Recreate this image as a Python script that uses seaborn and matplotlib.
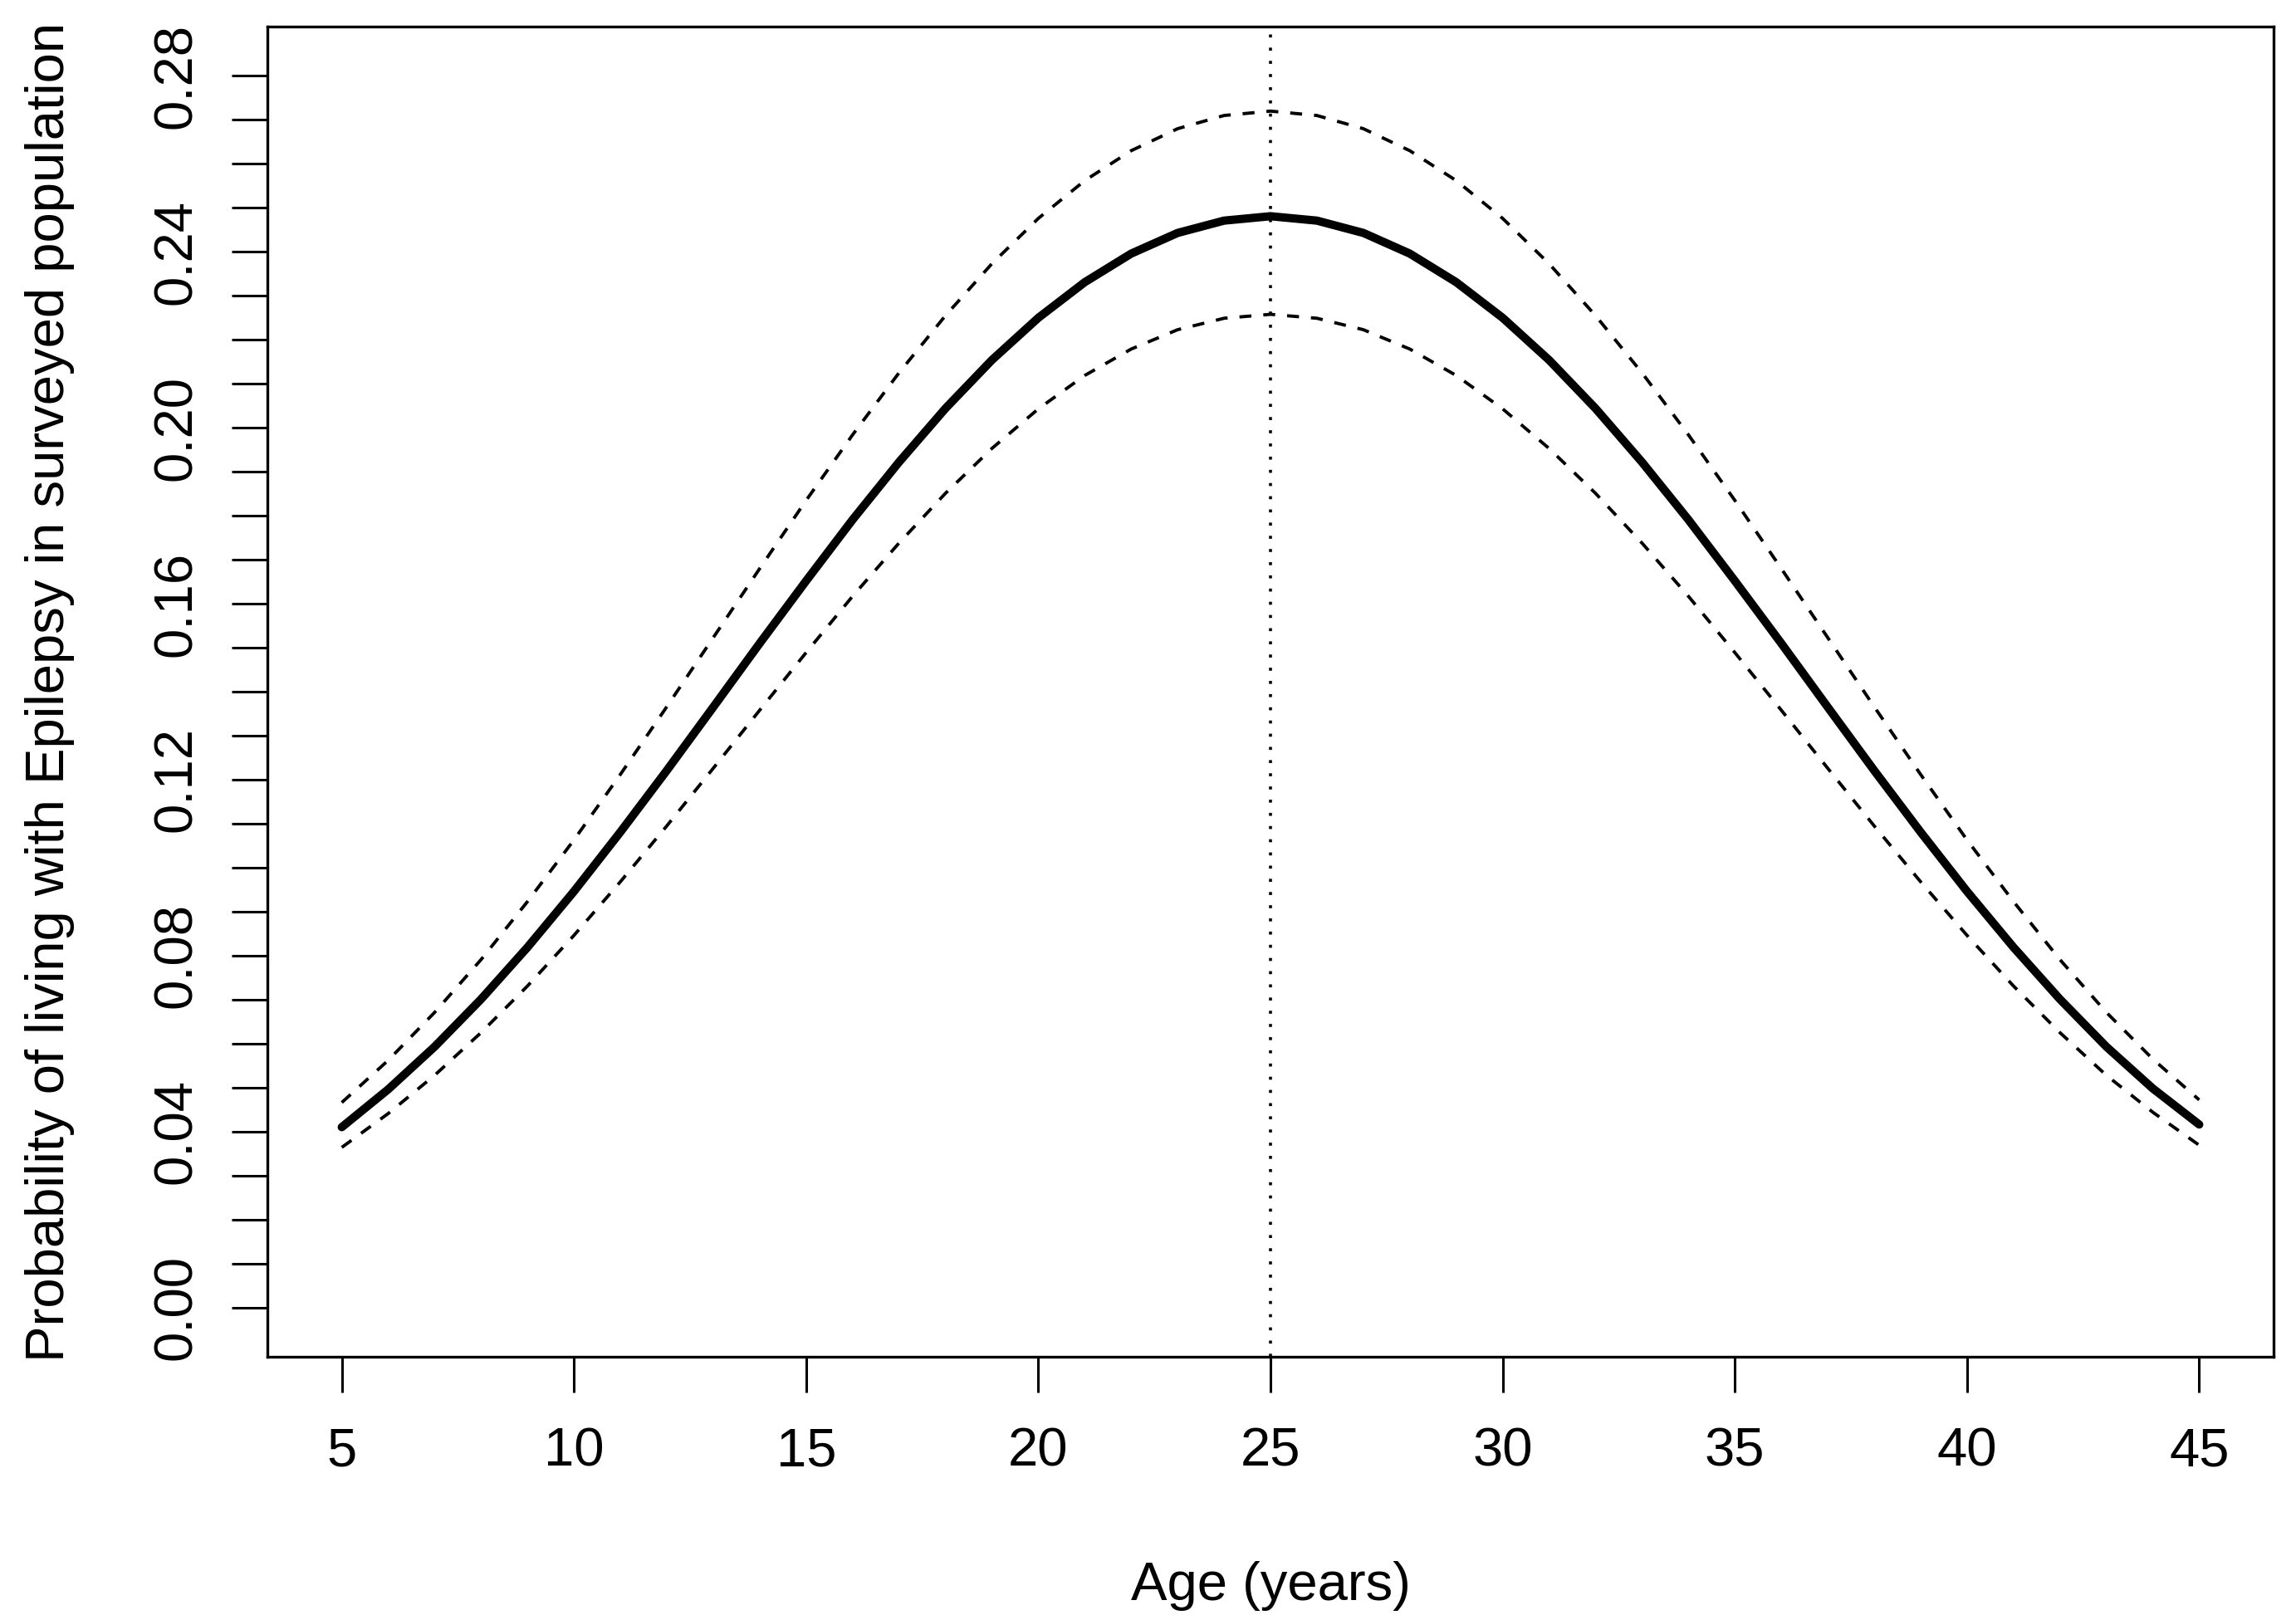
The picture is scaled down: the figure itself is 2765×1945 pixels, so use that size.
import matplotlib
matplotlib.use("Agg")
import matplotlib.pyplot as plt
import pandas as pd
import seaborn as sns
from matplotlib.ticker import FixedLocator, FormatStrFormatter

# values (fitted probability and 95% band)
ages = list(range(5, 46))
prob_fit = [
    0.0410, 0.0496, 0.0593, 0.0701, 0.0819, 0.0946, 0.1081, 0.1221, 0.1365, 0.1510,
    0.1652, 0.1791, 0.1922, 0.2044, 0.2154, 0.2250, 0.2331, 0.2396, 0.2443, 0.2471,
    0.2481,
    0.2471, 0.2443, 0.2396, 0.2331, 0.2250, 0.2154, 0.2044, 0.1922, 0.1791, 0.1652,
    0.1510, 0.1365, 0.1221, 0.1081, 0.0946, 0.0819, 0.0701, 0.0593, 0.0498, 0.0416,
]
prob_upper = [
    0.0466, 0.0562, 0.0671, 0.0791, 0.0923, 0.1063, 0.1212, 0.1366, 0.1523, 0.1680,
    0.1835, 0.1984, 0.2125, 0.2255, 0.2373, 0.2476, 0.2562, 0.2630, 0.2680, 0.2710,
    0.2720,
    0.2710, 0.2680, 0.2630, 0.2562, 0.2476, 0.2373, 0.2255, 0.2125, 0.1984, 0.1835,
    0.1680, 0.1523, 0.1366, 0.1212, 0.1063, 0.0923, 0.0791, 0.0671, 0.0565, 0.0472,
]
prob_lower = [
    0.0364, 0.0441, 0.0528, 0.0625, 0.0731, 0.0846, 0.0968, 0.1095, 0.1226, 0.1358,
    0.1489, 0.1617, 0.1738, 0.1851, 0.1953, 0.2043, 0.2119, 0.2179, 0.2223, 0.2249,
    0.2258,
    0.2249, 0.2223, 0.2179, 0.2119, 0.2043, 0.1953, 0.1851, 0.1738, 0.1617, 0.1489,
    0.1358, 0.1226, 0.1095, 0.0968, 0.0846, 0.0731, 0.0625, 0.0528, 0.0444, 0.0369,
]
peak_age = 25
x_ticks = [5, 10, 15, 20, 25, 30, 35, 40, 45]
y_labels = [0.00, 0.04, 0.08, 0.12, 0.16, 0.20, 0.24, 0.28]
y_minor = [i / 100 for i in range(29)]

df = pd.DataFrame({"age": ages, "fit": prob_fit, "upper": prob_upper, "lower": prob_lower})

sns.set_theme(style="white")
plt.rcParams["font.family"] = ["Liberation Sans", "DejaVu Sans"]

fig = plt.figure(figsize=(13.825, 9.725), dpi=200)
ax = fig.add_axes([0.1165, 0.1599, 0.8737, 0.8236])

dash = (0, (3.7, 3.7))
sns.lineplot(data=df, x="age", y="upper", color="black", lw=1.4, linestyle=dash, ax=ax)
sns.lineplot(data=df, x="age", y="lower", color="black", lw=1.4, linestyle=dash, ax=ax)
sns.lineplot(data=df, x="age", y="fit", color="black", lw=3.6,
             solid_capstyle="round", ax=ax)
ax.axvline(peak_age, color="black", lw=1.3, linestyle=(0, (1, 3.4)))

ax.set_xlim(3.4, 46.6)
ax.set_ylim(-0.0112, 0.2912)

ax.set_xticks(x_ticks)
ax.yaxis.set_major_locator(FixedLocator(y_labels))
ax.yaxis.set_minor_locator(FixedLocator(y_minor))
ax.yaxis.set_major_formatter(FormatStrFormatter("%.2f"))

for side in ["left", "right", "top", "bottom"]:
    ax.spines[side].set_visible(True)
    ax.spines[side].set_color("black")
    ax.spines[side].set_linewidth(1.2)

ax.tick_params(axis="both", which="both", direction="out", length=15.5, width=1.1,
               color="black", labelsize=23.5, labelcolor="black")
ax.tick_params(axis="x", which="major", bottom=True, pad=15)
ax.tick_params(axis="y", which="both", left=True, pad=13)
for lab in ax.get_yticklabels():
    lab.set_rotation(90)
    lab.set_va("center")

ax.set_xlabel("Age (years)", fontsize=23.5, color="black", va="center")
ax.set_ylabel("Probability of living with Epilepsy in surveyed population",
              fontsize=23.5, color="black", va="center")
ax.xaxis.set_label_coords(0.5, -0.1723)
ax.yaxis.set_label_coords(-0.1084, 0.5)

fig.savefig("out.png", dpi=200, facecolor="white")
plt.close(fig)
